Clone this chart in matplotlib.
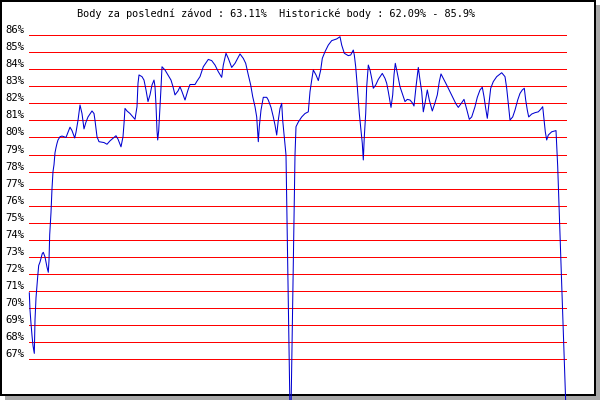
import matplotlib
matplotlib.use("Agg")
import matplotlib.pyplot as plt
from matplotlib.patches import Rectangle

# ---- data -------------------------------------------------------------
title_text = "Body za poslední závod : 63.11%  Historické body : 62.09% - 85.9%"

levels = [67, 68, 69, 70, 71, 72, 73, 74, 75, 76, 77, 78, 79, 80, 81, 82, 83, 84, 85, 86]
level_labels = [f"{v}%" for v in levels]

race_pos = [
    0.3, 1.0, 2, 3, 4, 5.3, 6, 7, 8.7, 9.7,
    11, 13.3, 14.3, 16, 18, 19.3, 20, 20.7, 22, 23,
    24, 25, 26, 27, 28, 29, 31, 33, 35, 37,
    39, 41, 43, 45.7, 47, 49, 51, 53, 55, 57,
    59, 63, 65, 66, 68, 70, 75, 78, 81, 87,
    89, 92, 94, 95, 96, 98, 101, 106, 108, 109,
    110, 113, 115, 117, 119, 121, 123, 125, 126, 127,
    128, 128.7, 129.7, 131, 132, 133, 136, 139, 142, 144,
    146, 149, 151, 153, 156, 159, 161, 166, 168, 171,
    174.3, 179.3, 182.7, 186, 189.3, 192.7, 194.3, 197, 199.3, 202.7,
    206, 211, 214.3, 216.7, 219.3, 221.7, 223.7, 226, 227.7, 229.3,
    230.3, 232, 234.3, 237.7, 239.3, 242, 244.3, 246, 247.7, 249.3,
    251, 252.7, 253.7, 255.3, 257, 261.5, 266, 267, 269.3, 272.7,
    276, 279.3, 281, 282.7, 284.3, 287, 289.3, 291.7, 293.3, 296,
    299.3, 302.7, 307.7, 311, 312.7, 315.3, 319.3, 321.7, 324.3, 325.3,
    326.7, 328.3, 330.3, 332, 333.3, 334.3, 335.3, 336.7, 337.7, 339.3,
    341, 342.7, 344.3, 346.7, 349.3, 353.3, 356, 357.7, 359.3, 361,
    362, 363.7, 365, 366.3, 367.7, 369.7, 371, 373.7, 376, 378.3,
    381, 383.3, 385, 387, 389.3, 391, 392.7, 394.3, 396, 398.3,
    400.3, 403.3, 406, 408.3, 410.3, 412, 414.3, 417.7, 421, 424.3,
    427, 429.3, 432.7, 435, 437.7, 440.3, 442.7, 446, 448.3, 451,
    453.3, 455, 456.7, 458.3, 460, 461.7, 464.3, 467.7, 472.7, 476,
    477.7, 479.3, 481, 483.7, 486, 488.7, 491, 493.3, 495.3, 496.7,
    498.3, 499.7, 502.7, 506, 509.3, 511.7, 513.7, 515, 516.3, 517.7,
    519.3, 522.7, 527, 528.7, 537.5,
]

points_pct = [
    70.9, 69.9, 69.1, 68.4, 67.8, 67.35, 69.3, 70.6, 71.85, 72.5,
    72.7, 73.2, 73.27, 73.0, 72.4, 72.1, 72.8, 74.3, 75.6, 77.0,
    78.0, 78.4, 79.1, 79.4, 79.65, 79.85, 80.04, 80.08, 80.04, 80.0,
    80.3, 80.6, 80.4, 79.97, 80.3, 81.0, 81.9, 81.4, 80.5, 80.9,
    81.2, 81.55, 81.4, 81.0, 80.04, 79.75, 79.7, 79.6, 79.8, 80.1,
    79.9, 79.45, 80.04, 80.8, 81.7, 81.55, 81.4, 81.06, 81.8, 83.17,
    83.66, 83.56, 83.36, 82.78, 82.1, 82.49, 83.07, 83.36, 82.97, 81.9,
    80.4, 79.85, 80.4, 81.8, 82.9, 84.14, 83.95, 83.66, 83.36, 82.97,
    82.49, 82.72, 82.97, 82.68, 82.19, 82.78, 83.1, 83.1, 83.3, 83.56,
    84.14, 84.57, 84.5, 84.24, 83.85, 83.52, 84.24, 84.93, 84.63, 84.1,
    84.34, 84.89, 84.63, 84.34, 83.66, 83.07, 82.39, 81.8, 81.2, 79.75,
    80.63, 81.6, 82.35, 82.35, 82.19, 81.76, 81.2, 80.73, 80.14, 81.02,
    81.7, 82.0, 81.0, 80.04, 78.97, 62.09, 78.97, 80.63, 80.9, 81.2,
    81.4, 81.5, 82.68, 83.36, 83.95, 83.66, 83.33, 83.95, 84.63, 85.02,
    85.41, 85.67, 85.77, 85.9, 85.41, 84.93, 84.79, 84.83, 85.12, 84.83,
    84.14, 82.97, 81.4, 80.4, 79.65, 78.68, 80.04, 81.4, 82.97, 84.24,
    83.95, 83.46, 82.88, 83.07, 83.4, 83.75, 83.46, 83.17, 82.68, 82.1,
    81.76, 82.49, 83.66, 84.34, 83.95, 83.36, 82.97, 82.49, 82.1, 82.23,
    82.19, 82.03, 81.84, 82.97, 84.1, 83.36, 82.68, 81.5, 82.0, 82.78,
    82.19, 81.55, 82.03, 82.49, 83.27, 83.72, 83.46, 83.07, 82.68, 82.29,
    81.96, 81.76, 82.03, 82.23, 81.65, 81.06, 81.2, 81.8, 82.35, 82.78,
    82.94, 82.39, 81.7, 81.12, 82.0, 82.88, 83.27, 83.56, 83.79, 83.56,
    82.88, 82.0, 81.02, 81.2, 81.6, 82.19, 82.58, 82.78, 82.88, 82.19,
    81.6, 81.2, 81.37, 81.45, 81.5, 81.65, 81.8, 81.06, 80.33, 79.85,
    80.14, 80.33, 80.4, 78.3, 63.11,
]

# ---- figure -----------------------------------------------------------
W, H = 600, 400
fig = plt.figure(figsize=(6, 4), dpi=100)
fig.patch.set_facecolor("white")

def px_rect(x0, y0, x1, y1, color):
    # rectangle given in pixel coords with top-left origin
    r = Rectangle((x0 / W, 1 - y1 / H), (x1 - x0) / W, (y1 - y0) / H,
                  transform=fig.transFigure, facecolor=color,
                  edgecolor="none", zorder=-5, antialiased=False)
    fig.add_artist(r)

# drop shadow
px_rect(596, 5, 600, 400, "#a8a8a8")
px_rect(5, 396, 600, 400, "#a8a8a8")
# black frame
px_rect(0, 0, 596, 2, "black")
px_rect(0, 394, 596, 396, "black")
px_rect(0, 0, 2, 396, "black")
px_rect(594, 0, 596, 396, "black")

ax = fig.add_axes([29 / W, 0, 537.5 / W, 1])
ax.set_facecolor("none")
ax.set_xlim(0, 537.5)
ax.set_ylim(64.62, 88.05)

for v in levels:
    ax.axhline(v, color="#ff0000", lw=0.5, antialiased=False, zorder=1)

ax.plot(race_pos, points_pct, color="#0000d0", lw=0.75, antialiased=True,
        zorder=3, clip_on=False)

for s in ax.spines.values():
    s.set_visible(False)
ax.set_xticks([])
ax.set_yticks(levels)
ax.set_yticklabels(level_labels)
ax.tick_params(axis="y", length=0, pad=3, labelsize=7.6, labelcolor="black")
for lbl in ax.get_yticklabels():
    lbl.set_fontfamily("DejaVu Sans Mono")
    lbl.set_verticalalignment("bottom")

fig.text(276.5 / W, 1 - 13.5 / H, title_text, ha="center", va="center",
         fontsize=7.4, family="DejaVu Sans Mono", color="black")

fig.savefig("out.png", dpi=100, facecolor="white")
